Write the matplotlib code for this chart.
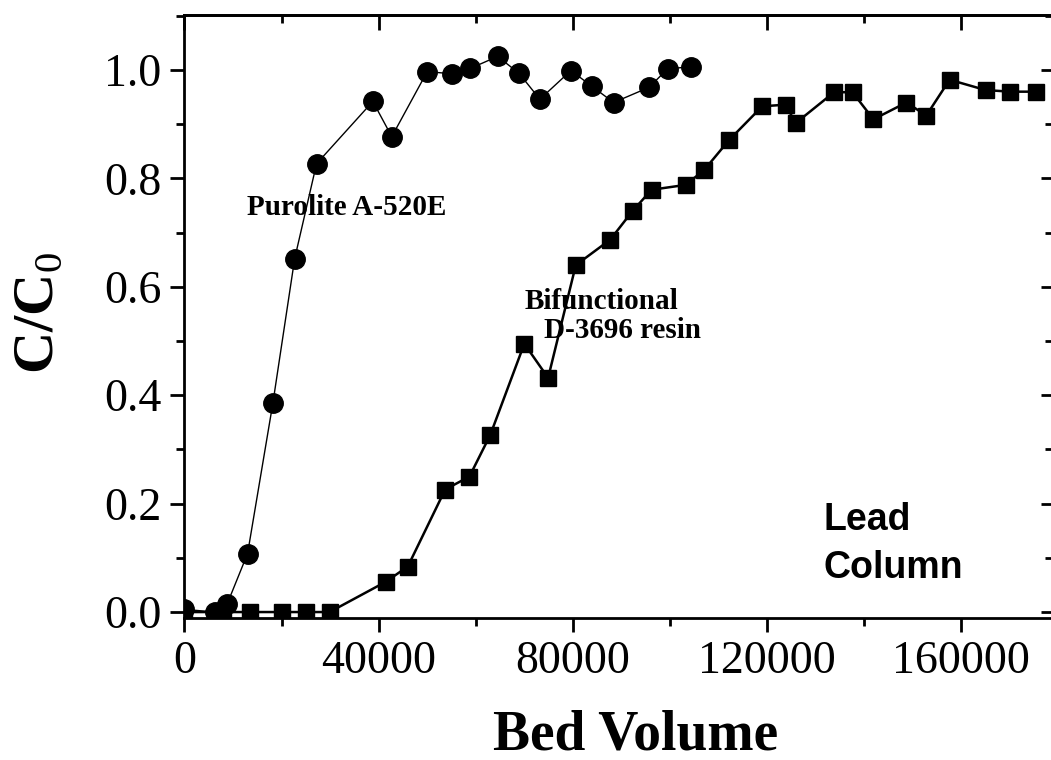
import matplotlib
matplotlib.use("Agg")
import matplotlib.pyplot as plt
from matplotlib.ticker import MultipleLocator

# Purolite A-520E (circles)
bv_purolite = [0, 6200, 8800, 13000, 18200, 22700, 27200, 38800, 42700, 50000,
               55100, 58900, 64500, 68900, 73200, 79600, 83900, 88400, 95700,
               99500, 104300]
c_purolite = [0.005, 0.0, 0.015, 0.108, 0.385, 0.652, 0.827, 0.942, 0.877, 0.997,
              0.993, 1.003, 1.025, 0.994, 0.946, 0.999, 0.970, 0.940, 0.968,
              1.002, 1.006]

# Bifunctional D-3696 resin (squares)
bv_d3696 = [0, 8000, 13400, 20000, 25100, 29900, 41500, 46000, 53700, 58700,
            63000, 70000, 74900, 80600, 87700, 92300, 96200, 103200, 107000,
            112100, 119000, 123800, 125900, 133800, 137600, 141900, 148700,
            152800, 157600, 165000, 170100, 175300]
c_d3696 = [0.0, 0.0, 0.0, 0.0, 0.0, 0.0, 0.056, 0.084, 0.226, 0.250,
           0.327, 0.495, 0.432, 0.640, 0.687, 0.740, 0.779, 0.788, 0.815,
           0.870, 0.933, 0.936, 0.902, 0.959, 0.959, 0.909, 0.940,
           0.916, 0.982, 0.963, 0.960, 0.960]

serif = "Liberation Serif"
plt.rcParams["mathtext.fontset"] = "custom"
plt.rcParams["mathtext.bf"] = "Liberation Serif:bold"
plt.rcParams["mathtext.rm"] = "Liberation Serif"

fig = plt.figure(figsize=(10.51, 7.60), dpi=100)
ax = fig.add_axes([0.1746, 0.1864, 0.8264, 0.7939])

ax.plot(bv_purolite, c_purolite, "-", color="black", lw=1.0,
        marker="o", ms=14, mfc="black", mec="black")
ax.plot(bv_d3696, c_d3696, "-", color="black", lw=1.8,
        marker="s", ms=12, mfc="black", mec="black")

ax.set_xlim(-200, 178700)
ax.set_ylim(-0.0116, 1.1015)

ax.xaxis.set_major_locator(MultipleLocator(40000))
ax.xaxis.set_minor_locator(MultipleLocator(20000))
ax.yaxis.set_major_locator(MultipleLocator(0.2))
ax.yaxis.set_minor_locator(MultipleLocator(0.1))
ax.yaxis.set_major_formatter(matplotlib.ticker.FormatStrFormatter("%.1f"))

for s in ax.spines.values():
    s.set_linewidth(2)

ax.tick_params(which="both", direction="out", width=2, pad=6,
               labelsize=33, top=False, right=False)
ax.tick_params(which="major", length=10)
ax.tick_params(which="minor", length=6)
for lab in ax.get_xticklabels() + ax.get_yticklabels():
    lab.set_fontfamily(serif)

# inward ticks on top and right, Origin style
top = ax.secondary_xaxis("top")
top.xaxis.set_major_locator(MultipleLocator(40000))
top.xaxis.set_minor_locator(MultipleLocator(20000))
top.tick_params(which="both", direction="in", width=2, labeltop=False)
top.tick_params(which="major", length=11)
top.tick_params(which="minor", length=6)
top.spines["top"].set_linewidth(2)

right = ax.secondary_yaxis("right")
right.yaxis.set_major_locator(MultipleLocator(0.2))
right.yaxis.set_minor_locator(MultipleLocator(0.1))
right.tick_params(which="both", direction="in", width=2, labelright=False)
right.tick_params(which="major", length=8)
right.tick_params(which="minor", length=5)

ax.text(12800, 0.746, "Purolite A-520E", fontsize=21, fontweight="bold",
        family=serif, va="center", ha="left")
ax.text(70000, 0.572, "Bifunctional", fontsize=21, fontweight="bold",
        family=serif, va="center", ha="left")
ax.text(74000, 0.52, "D-3696 resin", fontsize=21, fontweight="bold",
        family=serif, va="center", ha="left")
ax.text(131600, 0.170, "Lead", fontsize=27, fontweight="bold",
        family="Liberation Sans", va="center", ha="left")
ax.text(131600, 0.081, "Column", fontsize=27, fontweight="bold",
        family="Liberation Sans", va="center", ha="left")

fig.text(636 / 1051, 1 - 735 / 760, "Bed Volume", fontsize=40,
         fontweight="bold", family=serif, ha="center", va="center")
fig.text(36 / 1051, 1 - 313 / 760, r"$\mathbf{C/C}_0$", fontsize=42,
         rotation=90, ha="center", va="center")

fig.savefig("out.png", dpi=100)
